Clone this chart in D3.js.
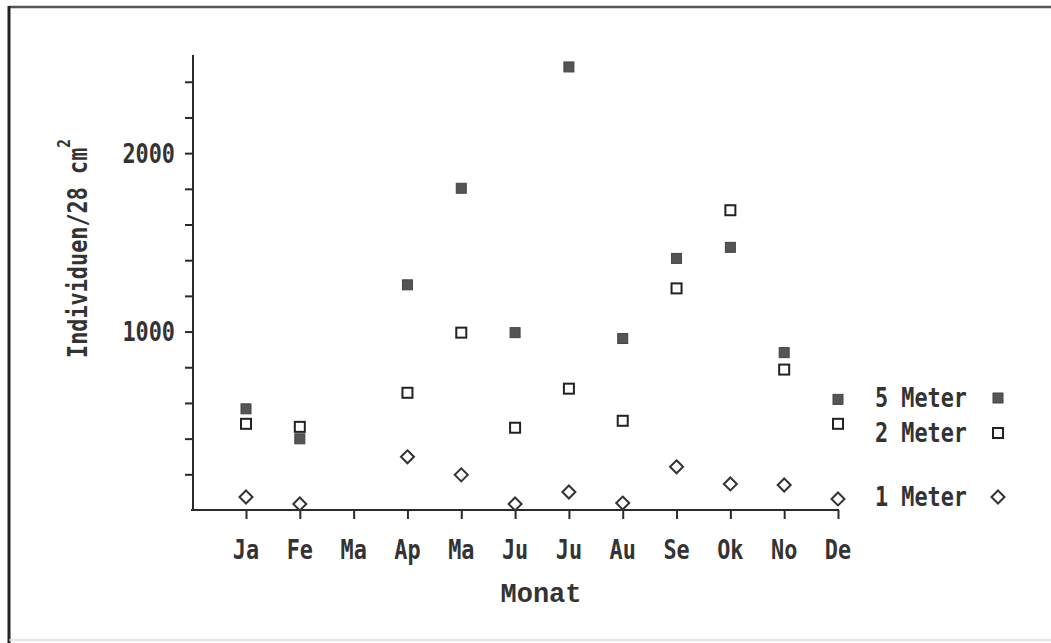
<!DOCTYPE html>
<html>
<head>
<meta charset="utf-8">
<script src="https://cdn.jsdelivr.net/npm/d3@7"></script>
<style>
  html, body { margin: 0; padding: 0; background: #fff; }
  svg { display: block; }
  .lbl { font-family: "DejaVu Sans Mono", monospace; font-weight: bold; fill: #333; }
</style>
</head>
<body>
<svg id="chart" width="1051" height="643"></svg>
<script>
// Monthly counts (individuals per 28 cm²) at three depths
const months = ["Ja", "Fe", "Ma", "Ap", "Ma", "Ju", "Ju", "Au", "Se", "Ok", "No", "De"];
const meter5 = [567, 399, null, 1262, 1803, 994, 2483, 961, 1410, 1472, 882, 620];
const meter2 = [483, 466, null, 657, 994, 461, 680, 500, 1242, 1680, 787, 483];
const meter1 = [73, 34, null, 298, 197, 34, 101, 39, 242, 146, 140, 62];
const yTicks = [200, 400, 600, 800, 1000, 1200, 1400, 1600, 1800, 2000, 2200, 2400];
const yLabelTicks = [1000, 2000];
const legendNames = ["5 Meter", "2 Meter", "1 Meter"];

const svg = d3.select("#chart");
const ink = "#2a2a2a";
const squeeze = 0.84;   // narrow, tall plotter-style lettering

// frame
svg.append("line").attr("x1", 9).attr("x2", 1051).attr("y1", 7).attr("y2", 7)
  .attr("stroke", "#555").attr("stroke-width", 2.5);
svg.append("line").attr("x1", 9).attr("x2", 9).attr("y1", 6).attr("y2", 643)
  .attr("stroke", "#222").attr("stroke-width", 3);
svg.append("line").attr("x1", 9).attr("x2", 1051).attr("y1", 640).attr("y2", 640)
  .attr("stroke", "#ddd").attr("stroke-width", 1.5);

const axisX = 193, baseY = 510;
const x = d3.scalePoint().domain(d3.range(months.length)).range([246, 838]);
const y = d3.scaleLinear().domain([0, 2550]).range([baseY, 55]);

// y axis
const yAxis = svg.append("g").attr("transform", `translate(${axisX},0)`)
  .call(d3.axisLeft(y).tickValues(yTicks).tickSize(8).tickSizeOuter(0).tickFormat(""));
yAxis.select(".domain").remove();
yAxis.selectAll(".tick line").attr("stroke", ink).attr("stroke-width", 2);
yAxis.append("line").attr("x1", 0).attr("x2", 0).attr("y1", y(2550)).attr("y2", baseY + 1)
  .attr("stroke", ink).attr("stroke-width", 2);
yAxis.selectAll(".ylab").data(yLabelTicks).join("g")
  .attr("transform", d => `translate(-18,${y(d)}) scale(${squeeze},1)`)
  .append("text")
  .attr("class", "lbl").attr("font-size", 26)
  .attr("dy", "0.36em").attr("text-anchor", "end")
  .text(d => d);

// x axis
const xAxis = svg.append("g").attr("transform", `translate(0,${baseY})`)
  .call(d3.axisBottom(x).tickSize(9).tickSizeOuter(0).tickFormat(""));
xAxis.select(".domain").remove();
xAxis.selectAll(".tick line").attr("stroke", ink).attr("stroke-width", 2);
xAxis.append("line").attr("x1", axisX - 2).attr("x2", x(11) + 1).attr("y1", 0).attr("y2", 0)
  .attr("stroke", ink).attr("stroke-width", 2);
xAxis.selectAll(".xlab").data(d3.range(months.length)).join("g")
  .attr("transform", d => `translate(${x(d)},49) scale(${squeeze},1)`)
  .append("text")
  .attr("class", "lbl").attr("font-size", 26).attr("text-anchor", "middle")
  .text(d => months[d]);

// axis titles
svg.append("text")
  .attr("x", 541).attr("y", 602)
  .attr("text-anchor", "middle")
  .attr("font-family", "'Liberation Mono', 'Courier New', monospace")
  .attr("font-weight", "bold").attr("font-size", 27).attr("fill", "#333")
  .text("Monat");

const yTitle = svg.append("text")
  .attr("class", "lbl").attr("font-size", 26)
  .attr("transform", `translate(87,358) rotate(-90) scale(${squeeze},1)`)
  .attr("text-anchor", "start");
yTitle.append("tspan").text("Individuen/28 cm");
yTitle.append("tspan").attr("dy", -17).attr("font-size", 17).text("2");

// marker drawers
function filledSquare(g, cx, cy) {
  g.append("rect").attr("x", cx - 5).attr("y", cy - 5).attr("width", 10).attr("height", 10)
    .attr("fill", "#555").attr("stroke", "#444").attr("stroke-width", 1);
}
function openSquare(g, cx, cy) {
  g.append("rect").attr("x", cx - 5).attr("y", cy - 5).attr("width", 10).attr("height", 10)
    .attr("fill", "#fff").attr("stroke", "#222").attr("stroke-width", 2);
}
function diamond(g, cx, cy) {
  g.append("path").attr("d", `M${cx},${cy - 6.5}L${cx + 6.5},${cy}L${cx},${cy + 6.5}L${cx - 6.5},${cy}Z`)
    .attr("fill", "#fff").attr("stroke", "#333").attr("stroke-width", 2);
}

const series = [
  { values: meter5, draw: filledSquare },
  { values: meter2, draw: openSquare },
  { values: meter1, draw: diamond }
];

const pts = svg.append("g");
series.forEach(s => {
  s.values.forEach((v, i) => {
    if (v == null) return;
    s.draw(pts, x(i), y(v));
  });
});

// legend
const legendY = [398, 433, 497];
const legend = svg.append("g");
series.forEach((s, i) => {
  legend.append("g")
    .attr("transform", `translate(875,${legendY[i]}) scale(${squeeze},1)`)
    .append("text").attr("class", "lbl").attr("font-size", 26)
    .attr("dy", "0.36em")
    .text(legendNames[i]);
  s.draw(legend, 998, legendY[i]);
});
</script>
</body>
</html>
